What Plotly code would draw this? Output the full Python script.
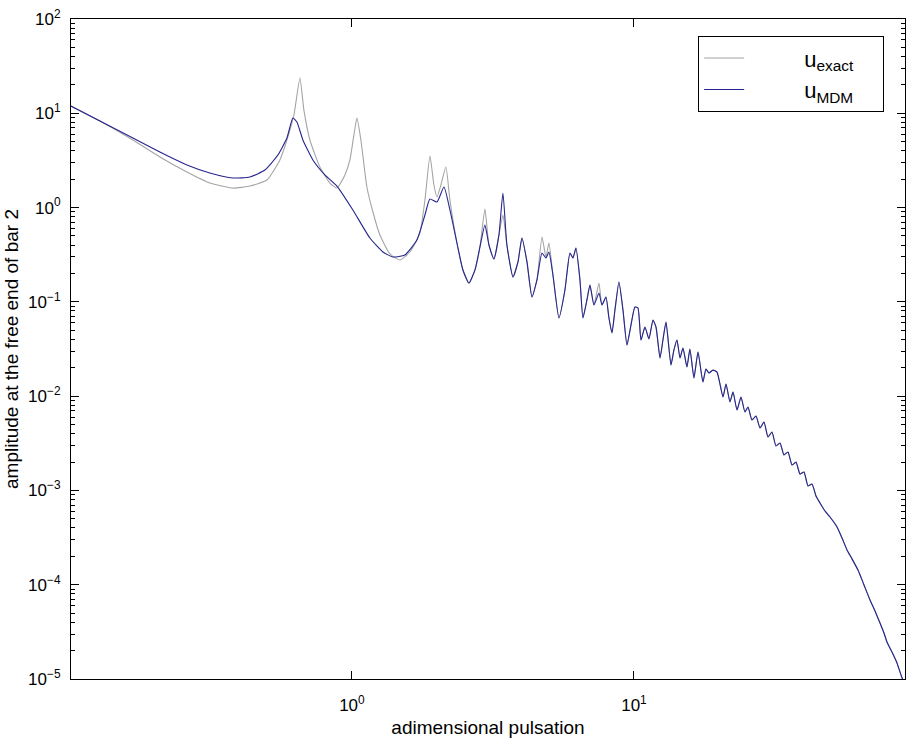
import plotly.graph_objects as go

# ---- data (adimensional pulsation, amplitude) ----
freq_low_mdm = [0.1008, 0.1278, 0.1673, 0.2085, 0.2601, 0.3135, 0.3785, 0.4349, 0.4914,
                0.5464, 0.5882, 0.6177, 0.6383, 0.6703, 0.7272, 0.8021, 0.8847, 1.008,
                1.158, 1.288, 1.398, 1.541, 1.700, 1.815, 1.891, 2.002, 2.120, 2.226,
                2.357, 2.475, 2.599, 2.731, 2.844, 2.962, 3.061, 3.189, 3.321, 3.431,
                3.544, 3.724, 3.879, 4.007, 4.175, 4.349, 4.529, 4.719, 4.875, 4.995,
                5.161, 5.420, 5.692, 5.930, 6.077, 6.228, 6.435, 6.594, 6.812, 6.982,
                7.214, 7.515, 7.701, 7.957]
amp_low_mdm = [11.95, 8.28, 5.47, 3.89, 2.83, 2.33, 2.06, 2.11, 2.50,
               3.61, 5.47, 8.91, 8.08, 5.21, 3.20, 2.22, 1.69, 0.943,
               0.476, 0.338, 0.299, 0.314, 0.453, 0.834, 1.233, 1.146, 1.653, 0.943,
               0.421, 0.218, 0.1585, 0.218, 0.382, 0.653, 0.401, 0.285, 0.512, 1.427,
               0.401, 0.1836, 0.265, 0.476, 0.265, 0.1126, 0.1706, 0.330, 0.292, 0.338,
               0.1928, 0.0675, 0.1336, 0.330, 0.292, 0.373, 0.1706, 0.0675, 0.1047, 0.1510,
               0.0926, 0.1242, 0.0926, 0.1126]

freq_low_exact = [0.1008, 0.1278, 0.1673, 0.2085, 0.2601, 0.3135, 0.3785, 0.4349, 0.4995,
                  0.5555, 0.5882, 0.6228, 0.6541, 0.6757, 0.7097, 0.7700, 0.8354, 0.8847,
                  0.9445, 0.9838, 1.0165, 1.042, 1.076, 1.130, 1.187, 1.257, 1.364, 1.480,
                  1.606, 1.742, 1.815, 1.891, 1.953, 2.002, 2.068, 2.154, 2.226, 2.357,
                  2.475, 2.599, 2.731, 2.844, 2.962, 3.061, 3.189, 3.321, 3.431, 3.544,
                  3.724, 3.879, 4.007, 4.175, 4.349, 4.529, 4.719, 4.875, 4.995, 5.161,
                  5.420, 5.692, 5.930, 6.077, 6.228, 6.435, 6.594, 6.812, 6.982, 7.214,
                  7.515, 7.701, 7.957]
amp_low_exact = [11.95, 8.28, 5.21, 3.44, 2.38, 1.82, 1.61, 1.69, 1.96,
                 3.20, 5.21, 9.59, 23.7, 10.8, 5.21, 2.69, 1.82, 1.61,
                 2.22, 3.20, 5.89, 8.91, 5.21, 1.653, 0.898, 0.512, 0.322, 0.278,
                 0.338, 0.538, 1.203, 3.52, 1.736, 1.295, 1.736, 2.69, 1.203, 0.421,
                 0.218, 0.1585, 0.218, 0.382, 0.966, 0.401, 0.285, 0.512, 0.834, 0.401,
                 0.1836, 0.265, 0.476, 0.265, 0.1126, 0.1706, 0.488, 0.300, 0.421, 0.1928,
                 0.0675, 0.1336, 0.330, 0.292, 0.373, 0.1706, 0.0675, 0.1047, 0.1510, 0.0926,
                 0.1585, 0.0926, 0.1126]

# high-frequency part, where both responses coincide
freq_high = [8.153, 8.356, 8.563, 8.847, 9.142, 9.445, 9.759, 10.08, 10.33, 10.59,
             10.94, 11.30, 11.68, 11.97, 12.37, 12.67, 12.99, 13.53, 13.86, 14.21,
             14.56, 14.92, 15.41, 15.79, 16.32, 16.87, 17.56, 18.00, 18.45, 19.06,
             19.70, 20.69, 21.20, 21.90, 22.45, 23.19, 23.96, 24.75, 25.37, 26.21,
             27.08, 27.98, 28.91, 29.87, 30.86, 31.88, 32.94, 34.03, 35.16, 36.33,
             37.54, 38.79, 40.07, 41.40, 42.78, 44.20, 45.67, 47.57, 49.55, 52.48,
             54.66, 56.93, 59.30, 62.28, 65.41, 68.69, 71.55, 74.53, 76.99, 78.90,
             82.18, 85.61, 89.21, 91.41]
amp_high = [0.0675, 0.0468, 0.0820, 0.1624, 0.0820, 0.0349, 0.0568, 0.0882, 0.0861, 0.0394,
            0.0541, 0.0404, 0.0642, 0.0541, 0.0254, 0.0394, 0.0612, 0.0214, 0.0309, 0.0394,
            0.0254, 0.0324, 0.0204, 0.0316, 0.0156, 0.0294, 0.0141, 0.0194, 0.0176, 0.0189,
            0.0180, 0.00980, 0.01346, 0.00867, 0.01107, 0.00713, 0.00980, 0.00679, 0.00767, 0.00559,
            0.00616, 0.00460, 0.00532, 0.00369, 0.00417, 0.00296, 0.00319, 0.00238, 0.00256, 0.00186,
            0.00200, 0.00149, 0.00157, 0.001115, 0.001171, 0.000873, 0.000736, 0.000605, 0.000523, 0.000410,
            0.000313, 0.000234, 0.000188, 0.000143, 0.0000994, 0.0000689, 0.0000527, 0.0000393, 0.0000308, 0.0000247,
            0.0000193, 0.0000148, 0.0000103, 0.0000089]

x_tick_vals = [1, 10]
x_tick_text = ["10<sup>0</sup>", "10<sup>1</sup>"]
y_tick_vals = [1e-5, 1e-4, 1e-3, 1e-2, 1e-1, 1, 10, 100]
y_tick_text = ["10<sup>−5</sup>", "10<sup>−4</sup>", "10<sup>−3</sup>", "10<sup>−2</sup>",
               "10<sup>−1</sup>", "10<sup>0</sup>", "10<sup>1</sup>", "10<sup>2</sup>"]

legend_exact = "u<sub>exact</sub>"
legend_mdm = "u<sub>MDM</sub>"

FONT = "Liberation Sans, Arial, Helvetica, sans-serif"
LEAD = "\u00a0" * 9
TRAIL = "\u00a0" * 4

fig = go.Figure()
fig.add_trace(go.Scatter(
    x=freq_low_exact + freq_high, y=amp_low_exact + amp_high,
    mode="lines", name=LEAD + legend_exact + TRAIL, legendgroup="g1",
    line=dict(color="#a4a4a4", width=1.1, shape="spline", smoothing=0.5)))
fig.add_trace(go.Scatter(
    x=freq_low_mdm + freq_high, y=amp_low_mdm + amp_high,
    mode="lines", name=LEAD + legend_mdm + TRAIL, legendgroup="g2",
    line=dict(color="#25258e", width=1.1, shape="spline", smoothing=0.5)))

fig.update_layout(
    width=908, height=740,
    margin=dict(l=71, r=3, t=19, b=61),
    paper_bgcolor="white", plot_bgcolor="white",
    font=dict(family=FONT, size=17, color="black"),
    showlegend=True,
    legend=dict(x=0.975, y=0.974, xanchor="right", yanchor="top",
                bordercolor="black", borderwidth=1, bgcolor="white",
                font=dict(size=22), itemwidth=40, tracegroupgap=0),
    xaxis=dict(type="log", range=[-0.996, 1.961], automargin=False,
               tickvals=x_tick_vals, ticktext=x_tick_text,
               ticks="inside", ticklen=8, tickcolor="black",
               showline=True, linecolor="black", linewidth=1, mirror="allticks",
               showgrid=False, zeroline=False,
               tickfont=dict(size=17), ticklabelstandoff=11,
               title=dict(text="adimensional pulsation", font=dict(size=19), standoff=6)),
    yaxis=dict(type="log", range=[-5, 2], automargin=False,
               tickvals=y_tick_vals, ticktext=y_tick_text,
               ticks="inside", ticklen=8, tickcolor="black",
               showline=True, linecolor="black", linewidth=1, mirror="allticks",
               showgrid=False, zeroline=False,
               minor=dict(ticks="inside", ticklen=4, tickcolor="black", dtick="D1", showgrid=False),
               tickfont=dict(size=17), ticklabelstandoff=6,
               title=dict(text="amplitude at the free end of bar 2", font=dict(size=19), standoff=4)),
)

fig.write_html(
    "out.html",
    config={"displayModeBar": False},
    post_script="document.body.style.margin='0';document.body.style.overflow='hidden';",
)
